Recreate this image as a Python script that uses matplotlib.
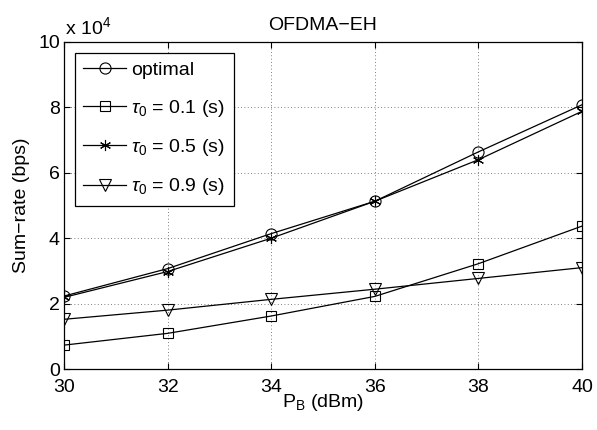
import numpy as np
import matplotlib.pyplot as plt

plt.rcParams['font.family'] = ['Liberation Sans', 'DejaVu Sans']
plt.rcParams['mathtext.fontset'] = 'custom'
plt.rcParams['mathtext.rm'] = 'Liberation Sans'
plt.rcParams['mathtext.it'] = 'Liberation Sans:italic'

p_b = [30, 32, 34, 36, 38, 40]
optimal = [2.23, 3.07, 4.14, 5.13, 6.64, 8.08]
tau_01 = [0.73, 1.09, 1.62, 2.22, 3.22, 4.37]
tau_05 = [2.19, 2.98, 4.00, 5.13, 6.40, 7.88]
tau_09 = [1.52, 1.80, 2.13, 2.44, 2.77, 3.10]

fig = plt.figure(figsize=(5.97, 4.30), dpi=100)
ax = fig.add_axes([64 / 597, 61 / 430, 518 / 597, 327 / 430])

kw = dict(color='black', lw=0.9, mfc='none', mec='black', mew=0.8)
ax.plot(p_b, optimal, marker='o', ms=8, label='optimal', **kw)
ax.plot(p_b, tau_01, marker='s', ms=7, label=r'$\tau_0$ = 0.1 (s)', **kw)
ax.plot(p_b, tau_05, marker=(6, 2, 0), ms=8, label=r'$\tau_0$ = 0.5 (s)', **kw)
ax.plot(p_b, tau_09, marker='v', ms=8, label=r'$\tau_0$ = 0.9 (s)', **kw)

ax.set_xlim(30, 40)
ax.set_ylim(0, 10)
ax.set_xticks(np.arange(30, 41, 2))
ax.set_yticks(np.arange(0, 11, 2))
ax.tick_params(direction='in', top=True, right=True, labelsize=14, length=4,
               pad=3)
ax.tick_params(axis='x', pad=7)
ax.grid(True, linestyle=(0, (1, 3)), color='#555555', lw=0.6)
for s in ax.spines.values():
    s.set_linewidth(0.9)

ax.set_title('OFDMA\u2212EH', fontsize=14, pad=9)
ax.set_xlabel(r'P$_\mathrm{B}$ (dBm)', fontsize=14, labelpad=-3)
ax.set_ylabel('Sum\u2212rate (bps)', fontsize=14, labelpad=6)
ax.text(0.002, 1.012, r'x 10$^4$', transform=ax.transAxes, fontsize=14,
        ha='left', va='bottom')

leg = ax.legend(loc='upper left', fontsize=14, frameon=True, fancybox=False,
                edgecolor='black', handlelength=2.2, borderaxespad=0.55,
                labelspacing=0.95, handletextpad=0.25, borderpad=0.45)
leg.get_frame().set_linewidth(0.9)
leg.get_frame().set_alpha(1)

plt.savefig('out.png', dpi=100)
